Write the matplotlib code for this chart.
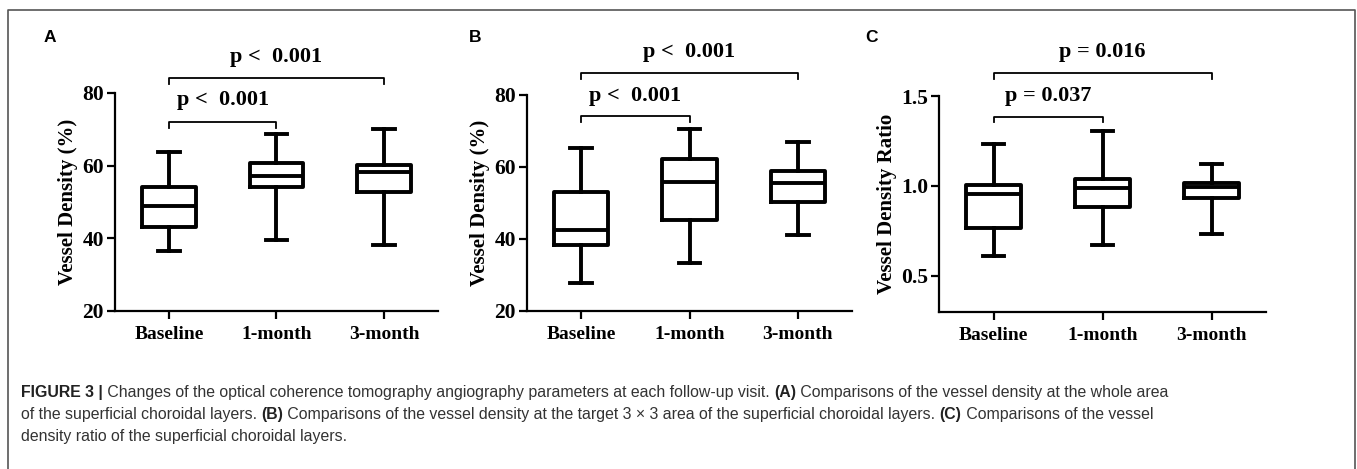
import numpy as np
import matplotlib.pyplot as plt
from matplotlib.lines import Line2D

# box summary values (whislo, q1, med, q3, whishi)
groups = ['Baseline', '1-month', '3-month']

vd_whole = [[36.6, 43.2, 49.0, 54.2, 63.8],
            [39.5, 54.0, 57.1, 60.6, 68.8],
            [38.2, 52.8, 58.2, 60.2, 70.0]]
vd_target = [[27.9, 38.3, 42.5, 53.0, 65.2],
             [33.4, 45.3, 55.9, 62.2, 70.5],
             [41.2, 50.2, 55.6, 59.0, 67.0]]
vd_ratio = [[0.611, 0.765, 0.956, 1.006, 1.233],
            [0.672, 0.885, 0.987, 1.041, 1.307],
            [0.732, 0.935, 0.993, 1.015, 1.122]]

p_A = ['p <  0.001', 'p <  0.001']
p_B = ['p <  0.001', 'p <  0.001']
p_C = ['p = 0.037', 'p = 0.016']

serif = 'Liberation Serif'
sans = 'Liberation Sans'

fig = plt.figure(figsize=(13.57, 4.69), dpi=100)

def W(px):
    return px / 1357.0

def H(py):
    return 1 - py / 469.0

def panel(rect, data, ylim, yticks, yfmt, ylabel, ptxt, brk, label, label_xy):
    ax = fig.add_axes(rect)
    stats = []
    for d in data:
        stats.append(dict(whislo=d[0], q1=d[1], med=d[2], q3=d[3], whishi=d[4], fliers=[]))
    lw = 2.8
    ax.bxp(stats, positions=[0, 1, 2], widths=0.5, capwidths=0.2, showfliers=False,
           boxprops=dict(color='black', linewidth=lw),
           medianprops=dict(color='black', linewidth=lw),
           whiskerprops=dict(color='black', linewidth=lw),
           capprops=dict(color='black', linewidth=lw))
    ax.set_xlim(-0.5, 2.5)
    ax.set_ylim(*ylim)
    ax.set_yticks(yticks)
    ax.set_yticklabels([yfmt % t for t in yticks], fontfamily=serif, fontweight='bold', fontsize=15.5)
    ax.set_xticks([0, 1, 2])
    ax.set_xticklabels(groups, fontfamily=serif, fontweight='bold', fontsize=14)
    ax.set_ylabel(ylabel, fontfamily=serif, fontweight='bold', fontsize=15, labelpad=3)
    for s in ['top', 'right']:
        ax.spines[s].set_visible(False)
    for s in ['left', 'bottom']:
        ax.spines[s].set_linewidth(1.6)
    ax.tick_params(width=1.6, length=6, pad=2)
    ax.tick_params(axis='x', pad=5)
    # significance brackets: (x0, x1, y line, drop, text y)
    for (x0, x1, yl, drop, yt), t in zip(brk, ptxt):
        ax.plot([x0, x0, x1, x1], [yl - drop, yl, yl, yl - drop], color='black',
                linewidth=1.3, clip_on=False)
        ax.text((x0 + x1) / 2, yt, t, ha='center', va='center', fontfamily=serif,
                fontweight='bold', fontsize=16, clip_on=False)
    fig.text(label_xy[0], label_xy[1], label, fontfamily=sans, fontweight='bold',
             fontsize=12.5, ha='center', va='center')
    return ax

panel([W(115), H(311), W(323), 218 / 469], vd_whole, (20, 80), [20, 40, 60, 80], '%d',
      'Vessel Density (%)', p_A,
      [(0, 1, 72.1, 1.7, 78.0), (0, 2, 84.2, 1.7, 90.0)], 'A', (W(50), H(38)))
panel([W(527), H(311), W(325), 216 / 469], vd_target, (20, 80), [20, 40, 60, 80], '%d',
      'Vessel Density (%)', p_B,
      [(0, 1, 74.2, 1.6, 79.8), (0, 2, 86.0, 1.6, 91.9)], 'B', (W(475), H(37)))
panel([W(939), H(311.7), W(327), 215.7 / 469], vd_ratio, (0.3, 1.5), [0.5, 1.0, 1.5], '%.1f',
      'Vessel Density Ratio', p_C,
      [(0, 1, 1.385, 0.028, 1.50), (0, 2, 1.626, 0.033, 1.743)], 'C', (W(872), H(37)))

# frame around the figure (open at the bottom)
fig.add_artist(Line2D([W(8), W(8), W(1355), W(1355)], [0, H(10), H(10), 0],
                      color='#555555', linewidth=1.2))

# caption with mixed bold / regular runs
cap_lines = [
    [('FIGURE 3 |', True), (' Changes of the optical coherence tomography angiography parameters at each follow-up visit. ', False),
     ('(A)', True), (' Comparisons of the vessel density at the whole area', False)],
    [('of the superficial choroidal layers. ', False), ('(B)', True),
     (' Comparisons of the vessel density at the target 3 \u00d7 3 area of the superficial choroidal layers. ', False),
     ('(C)', True), (' Comparisons of the vessel', False)],
    [('density ratio of the superficial choroidal layers.', False)],
]
cap_y = [392, 414, 436]

fig.canvas.draw()
renderer = fig.canvas.get_renderer()
for runs, yy in zip(cap_lines, cap_y):
    x = W(21)
    for txt, bold in runs:
        t = fig.text(x, H(yy), txt, fontfamily=sans, fontsize=11.45,
                     fontweight='bold' if bold else 'normal',
                     color='#222222' if bold else '#333333', va='center', ha='left')
        bb = t.get_window_extent(renderer=renderer)
        x += bb.width / fig.bbox.width

fig.savefig('out.png', dpi=100)
